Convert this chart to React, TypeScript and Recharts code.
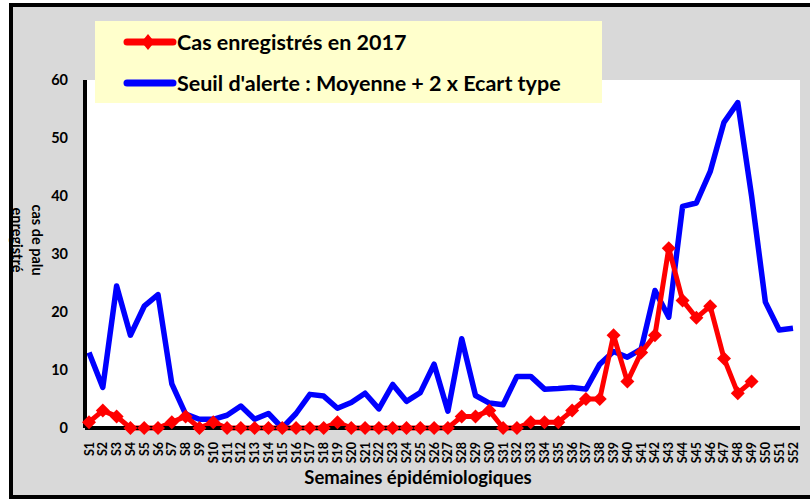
import { LineChart, Line, XAxis, YAxis, CartesianGrid } from "recharts";

const weeks = Array.from({ length: 52 }, (_, i) => `S${i + 1}`);

const cases2017 = [
  1, 3, 2, 0, 0, 0, 1, 2, 0, 1, 0, 0, 0, 0, 0, 0, 0, 0, 1, 0, 0, 0, 0, 0, 0, 0,
  0, 2, 2, 3, 0, 0, 1, 1, 1, 3, 5, 5, 16, 8, 13, 16, 31, 22, 19, 21, 12, 6, 8,
];

const alertThreshold = [
  13, 7, 24.5, 16, 21, 23, 7.6, 2.4, 1.5, 1.5, 2.2, 3.8, 1.5, 2.5, 0, 2.5, 5.8,
  5.5, 3.4, 4.4, 6, 3.3, 7.5, 4.6, 6.1, 11, 2.9, 15.4, 5.6, 4.3, 4, 8.9, 8.9,
  6.7, 6.8, 7, 6.7, 11, 13.2, 12.2, 13.6, 23.7, 19.1, 38.2, 38.8, 44.2, 52.7,
  56.1, 40, 21.7, 16.9, 17.2,
];

const yTicks = [0, 10, 20, 30, 40, 50, 60];

const data = weeks.map((week, i) => ({
  week,
  cases: i < cases2017.length ? cases2017[i] : null,
  alert: alertThreshold[i],
}));

const FONT = 'Lato, "Liberation Sans", Arial, sans-serif';

const WeekTick = ({ x, y, payload }: { x?: number; y?: number; payload?: { value: string } }) => (
  <text
    x={x}
    y={(y ?? 0) + 6}
    transform={`rotate(-90, ${x}, ${(y ?? 0) + 6})`}
    textAnchor="end"
    dy="0.36em"
    fontSize={12.5}
    fontWeight={700}
    fontFamily={FONT}
    fill="#000"
  >
    {payload?.value}
  </text>
);

const Diamond = ({ cx, cy }: { cx?: number; cy?: number }) => {
  if (cx == null || cy == null) return null;
  return (
    <polygon
      points={`${cx},${cy - 7} ${cx + 7},${cy} ${cx},${cy + 7} ${cx - 7},${cy}`}
      fill="#ff0000"
    />
  );
};

export default function App() {
  return (
    <div style={{ position: "absolute", left: 0, top: 0, width: 810, height: 499, overflow: "hidden", background: "#fff" }}>
      <div
        style={{
          position: "absolute",
          left: 9,
          top: 3,
          width: 830,
          height: 488,
          border: "4px solid #000",
          background: "#d9d9d9",
        }}
      />
      <div style={{ position: "absolute", left: 0, top: 0 }}>
        <LineChart
          width={810}
          height={499}
          data={data}
          margin={{ top: 80, right: 10, bottom: 41, left: 25 }}
        >
          <CartesianGrid fill="#ffffff" stroke="none" horizontal={false} vertical={false} />
          <XAxis
            dataKey="week"
            interval={0}
            height={30}
            padding={{ left: 4, right: 7 }}
            axisLine={{ stroke: "#000", strokeWidth: 4 }}
            tickLine={false}
            tick={<WeekTick />}
          />
          <YAxis
            width={60}
            domain={[0, 60]}
            ticks={yTicks}
            axisLine={{ stroke: "#000", strokeWidth: 4 }}
            tickLine={false}
            tickMargin={11}
            tick={{ fontSize: 14.5, fontWeight: 700, fill: "#000", fontFamily: FONT }}
          />
          <Line
            dataKey="alert"
            stroke="#0000ff"
            strokeWidth={5.5}
            strokeLinejoin="round"
            dot={false}
            isAnimationActive={false}
          />
          <Line
            dataKey="cases"
            stroke="#ff0000"
            strokeWidth={5}
            strokeLinejoin="round"
            dot={<Diamond />}
            connectNulls={false}
            isAnimationActive={false}
          />
        </LineChart>
      </div>

      {/* legend box */}
      <div
        style={{
          position: "absolute",
          left: 95,
          top: 21,
          width: 507,
          height: 82,
          background: "#ffffcc",
          fontFamily: FONT,
          fontWeight: 700,
          fontSize: 21.5,
          color: "#000",
        }}
      >
        <svg width={60} height={82} style={{ position: "absolute", left: 28, top: 0 }}>
          <line x1={4} y1={21} x2={50} y2={21} stroke="#ff0000" strokeWidth={7} strokeLinecap="round" />
          <polygon points="25,13 31.5,21 25,29 18.5,21" fill="#ff0000" />
          <line x1={4} y1={62} x2={50} y2={62} stroke="#0000ff" strokeWidth={7} strokeLinecap="round" />
        </svg>
        <div style={{ position: "absolute", left: 82, top: 7, whiteSpace: "nowrap", lineHeight: "28px" }}>
          Cas enregistrés en 2017
        </div>
        <div style={{ position: "absolute", left: 82, top: 48, whiteSpace: "nowrap", lineHeight: "28px" }}>
          Seuil d'alerte : Moyenne + 2 x Ecart type
        </div>
      </div>

      {/* y axis title */}
      <div
        style={{
          position: "absolute",
          left: 31 - 60,
          top: 240 - 16,
          width: 120,
          height: 32,
          transform: "rotate(90deg)",
          textAlign: "center",
          fontFamily: FONT,
          fontWeight: 700,
          fontSize: 14.5,
          lineHeight: "20px",
          color: "#000",
        }}
      >
        cas de palu
        <br />
        enregistré
      </div>

      {/* x axis title */}
      <div
        style={{
          position: "absolute",
          left: 218,
          top: 466,
          width: 400,
          textAlign: "center",
          fontFamily: FONT,
          fontWeight: 700,
          fontSize: 18.5,
          color: "#000",
        }}
      >
        Semaines épidémiologiques
      </div>
    </div>
  );
}
